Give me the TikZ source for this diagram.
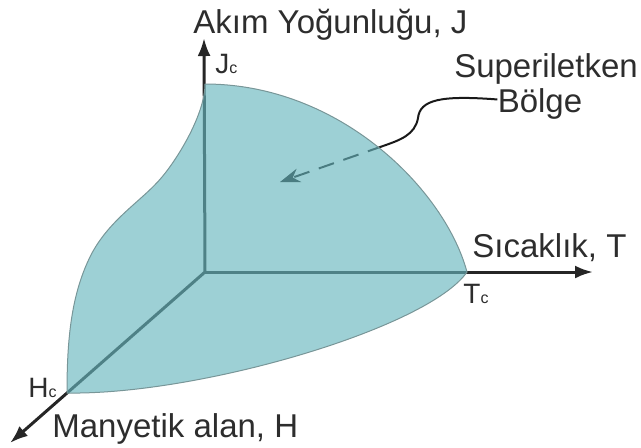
\documentclass[tikz,border=0pt]{standalone}
\usepackage{fontspec}
\setmainfont{Liberation Sans}
\usetikzlibrary{arrows.meta}

\definecolor{zonefill}{RGB}{102,181,189}
\definecolor{zoneedge}{RGB}{120,150,152}
\definecolor{labelgray}{RGB}{45,45,45}

\newcommand{\critof}[1]{#1{\fontsize{8}{9}\selectfont c}}

\begin{document}
\begin{tikzpicture}[x=0.5pt, y=-0.5pt,
  axisname/.style={font=\fontsize{16.5}{19}\selectfont, text=labelgray, inner sep=0pt, anchor=base west},
  critname/.style={font=\fontsize{14}{16}\selectfont, text=labelgray, inner sep=0pt, anchor=base west},
  zonename/.style={font=\fontsize{16.5}{19}\selectfont, text=labelgray, inner sep=0pt, anchor=base},
  axis/.style={draw=black!85, line width=1.5pt, -{Latex[length=9pt, width=6.5pt]}},
  pointer/.style={draw=black!90, line width=1pt},
  zone/.style={fill=zonefill, fill opacity=0.64, draw=zoneedge, draw opacity=1, line width=0.5pt}
]
\useasboundingbox (0,0) rectangle (641,447);

% ==================== axes ====================
\coordinate (O) at (205,272);
\coordinate (Jtip) at (204,38);
\coordinate (Ttip) at (593,272);
\coordinate (Htip) at (10,443);

\draw[axis] (O) -- (Jtip);
\draw[axis] (O) -- (Ttip);
\draw[axis] (O) -- (Htip);

% ==================== pointer from label ====================
\node[zonename] (superlabel) at (546,77) {Superiletken};
\node[zonename] (bolge) at (540,112) {Bölge};

\coordinate (kink) at (383,146);
\coordinate (aim) at (280,182);

\draw[pointer] ([yshift=2pt]bolge.west) .. controls (440,95) and (420,100) .. (418,118)
  .. controls (415,135) and (400,140) .. (kink);
\draw[pointer, dash pattern=on 8pt off 5pt, -{Stealth[length=10pt, width=7pt]}] (kink) -- (aim);

% ==================== superconducting region ====================
\coordinate (Jc) at (205,84);
\coordinate (Tc) at (467,272);
\coordinate (Hc) at (67,393);

\path[zone] (Jc) .. controls (340,84) and (445,190) .. (Tc)
  .. controls (428,328) and (200,395) .. (Hc)
  .. controls (67,340) and (71,293) .. (92,253)
  .. controls (111,218) and (143,200) .. (162,177)
  .. controls (178,158) and (205,114) .. (Jc) -- cycle;

% ==================== labels ====================
\node[axisname] (jname) at (193,33) {Akım Yoğunluğu, J};
\node[axisname] (tname) at (472,257) {Sıcaklık, T};
\node[axisname] (hname) at (52,437) {Manyetik alan, H};

\node[critname] (jclabel) at (215,73) {\critof{J}};
\node[critname] (tclabel) at (463,303) {\critof{T}};
\node[critname] (hclabel) at (28,397) {\critof{H}};

\end{tikzpicture}
\end{document}
